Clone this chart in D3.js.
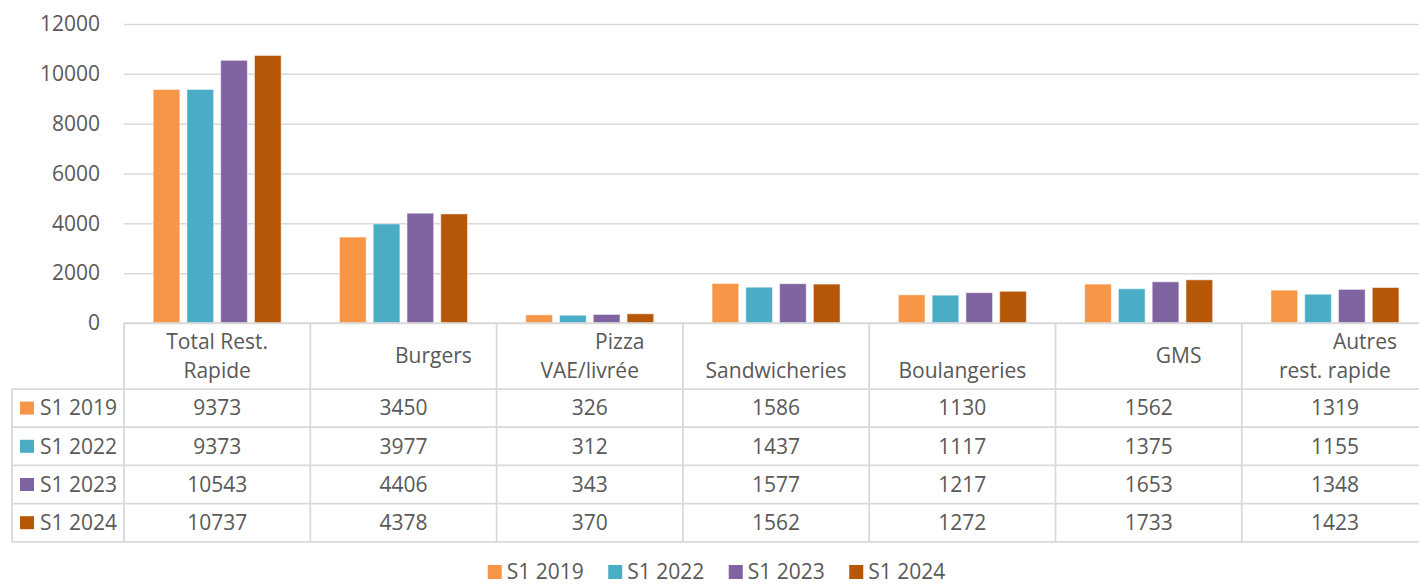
<!DOCTYPE html>
<html>
<head>
<meta charset="utf-8">
<script src="https://cdn.jsdelivr.net/npm/d3@7"></script>
<style>
  body { margin: 0; background: #fff; }
  svg text { font-family: "Open Sans", sans-serif; fill: #595959; white-space: pre; }
</style>
</head>
<body>
<svg id="chart"></svg>
<script>
// categories (leading spaces are part of the original labels)
const categories = [
  "Total Rest. Rapide",
  "           Burgers",
  "           Pizza VAE/livrée",
  "           Sandwicheries",
  "           Boulangeries",
  "           GMS",
  "           Autres rest. rapide"
];
const series = ["S1 2019", "S1 2022", "S1 2023", "S1 2024"];
const s1_2019 = [9373, 3450, 326, 1586, 1130, 1562, 1319];
const s1_2022 = [9373, 3977, 312, 1437, 1117, 1375, 1155];
const s1_2023 = [10543, 4406, 343, 1577, 1217, 1653, 1348];
const s1_2024 = [10737, 4378, 370, 1562, 1272, 1733, 1423];
const yTicks = [0, 2000, 4000, 6000, 8000, 10000, 12000];

const seriesValues = [s1_2019, s1_2022, s1_2023, s1_2024];
const colors = ["#F79646", "#4BACC6", "#8064A2", "#B65708"];
const fontSize = 21;
const grid = "#d9d9d9";

const W = 1419, H = 585;
const svg = d3.select("#chart").attr("width", W).attr("height", H);

const colW = 186.3;
const plotLeft = 124, plotRight = plotLeft + colW * categories.length;

const x0 = d3.scaleBand().domain(categories).range([plotLeft, plotRight]);
const x1 = d3.scaleBand().domain(series).range([0, x0.bandwidth()])
  .paddingInner(0.21).paddingOuter(0.863);
const y = d3.scaleLinear().domain([0, 12000]).range([323, 24]);

// gridlines + y labels
const yAxis = svg.append("g")
  .attr("transform", "translate(" + plotLeft + ",0)")
  .call(d3.axisLeft(y).tickValues(yTicks).tickSize(-(plotRight - plotLeft)).tickPadding(24).tickFormat(d3.format("d")));
yAxis.select(".domain").remove();
yAxis.selectAll("line").attr("stroke", grid).attr("stroke-width", 1.5);
yAxis.selectAll("text")
  .attr("font-family", null)
  .style("font-size", fontSize + "px");
yAxis.attr("font-family", null);

// bars
const groups = svg.append("g").selectAll("g")
  .data(categories)
  .join("g")
  .attr("transform", d => "translate(" + x0(d) + ",0)");

groups.selectAll("rect")
  .data((c, i) => series.map((s, k) => ({ s, k, v: seriesValues[k][i] })))
  .join("rect")
  .attr("x", d => x1(d.s))
  .attr("width", x1.bandwidth())
  .attr("y", d => y(d.v))
  .attr("height", d => y(0) - y(d.v))
  .attr("fill", d => colors[d.k])
  .attr("stroke", "#fff")
  .attr("stroke-opacity", 0.5)
  .attr("stroke-width", 1);

// data table
const headerTop = y(0), headerBottom = 389;
const rows = d3.scaleBand().domain(series).range([headerBottom, 541.8]);
const tableLeft = 12;
const table = svg.append("g");

// horizontal lines
table.append("line")
  .attr("x1", plotLeft).attr("x2", plotRight)
  .attr("y1", headerTop).attr("y2", headerTop);
const hLines = [headerBottom].concat(series.map(s => rows(s) + rows.bandwidth()));
table.selectAll(".h")
  .data(hLines)
  .join("line")
  .attr("x1", tableLeft).attr("x2", plotRight)
  .attr("y1", d => d).attr("y2", d => d);
// vertical lines
table.selectAll(".v")
  .data(categories.map(c => x0(c)).concat([plotRight]))
  .join("line")
  .attr("x1", d => d).attr("x2", d => d)
  .attr("y1", headerTop).attr("y2", rows.range()[1]);
table.append("line")
  .attr("x1", tableLeft).attr("x2", tableLeft)
  .attr("y1", headerBottom).attr("y2", rows.range()[1]);
table.selectAll("line").attr("stroke", grid).attr("stroke-width", 1.75);

// header labels with word wrap
const ctx = document.createElement("canvas").getContext("2d");
ctx.font = fontSize + "px 'Open Sans'";
function wrapLines(str, maxW) {
  const lead = str.match(/^ */)[0];
  const words = str.trim().split(/ +/);
  const lines = [];
  let cur = lead;
  words.forEach(w => {
    const trial = cur.trim() === "" ? cur + w : cur + " " + w;
    if (ctx.measureText(trial).width > maxW && cur !== "") { lines.push(cur); cur = w; }
    else cur = trial;
  });
  lines.push(cur);
  return lines;
}
const lineH = 29.6;
const headerMid = (headerTop + headerBottom) / 2;
categories.forEach(c => {
  const lines = wrapLines(c, 160);
  const cx = x0(c) + x0.bandwidth() / 2;
  lines.forEach((ln, i) => {
    svg.append("text")
      .attr("x", cx)
      .attr("y", headerMid + 7.3 + (i - (lines.length - 1) / 2) * lineH)
      .attr("text-anchor", "middle")
      .style("font-size", fontSize + "px")
      .text(ln);
  });
});

// table values
series.forEach((s, k) => {
  const cy = rows(s) + rows.bandwidth() / 2;
  svg.append("rect")
    .attr("x", 20).attr("y", cy - 6.5)
    .attr("width", 14).attr("height", 13)
    .attr("fill", colors[k]);
  svg.append("text")
    .attr("x", 40).attr("y", cy + 7.3)
    .style("font-size", fontSize + "px")
    .text(s);
  categories.forEach((c, i) => {
    svg.append("text")
      .attr("x", x0(c) + x0.bandwidth() / 2)
      .attr("y", cy + 7.3)
      .attr("text-anchor", "middle")
      .style("font-size", fontSize + "px")
      .text(seriesValues[k][i]);
  });
});

// legend at the bottom
const stride = 120.5;
const lastW = ctx.measureText(series[series.length - 1]).width;
const legendW = stride * (series.length - 1) + 19 + lastW;
const legendX = 716.5 - legendW / 2;
const legend = svg.append("g").attr("transform", "translate(" + legendX + ",0)");
series.forEach((s, k) => {
  legend.append("rect")
    .attr("x", k * stride).attr("y", 565)
    .attr("width", 14).attr("height", 14)
    .attr("fill", colors[k]);
  legend.append("text")
    .attr("x", k * stride + 19).attr("y", 579)
    .style("font-size", fontSize + "px")
    .text(s);
});
</script>
</body>
</html>
